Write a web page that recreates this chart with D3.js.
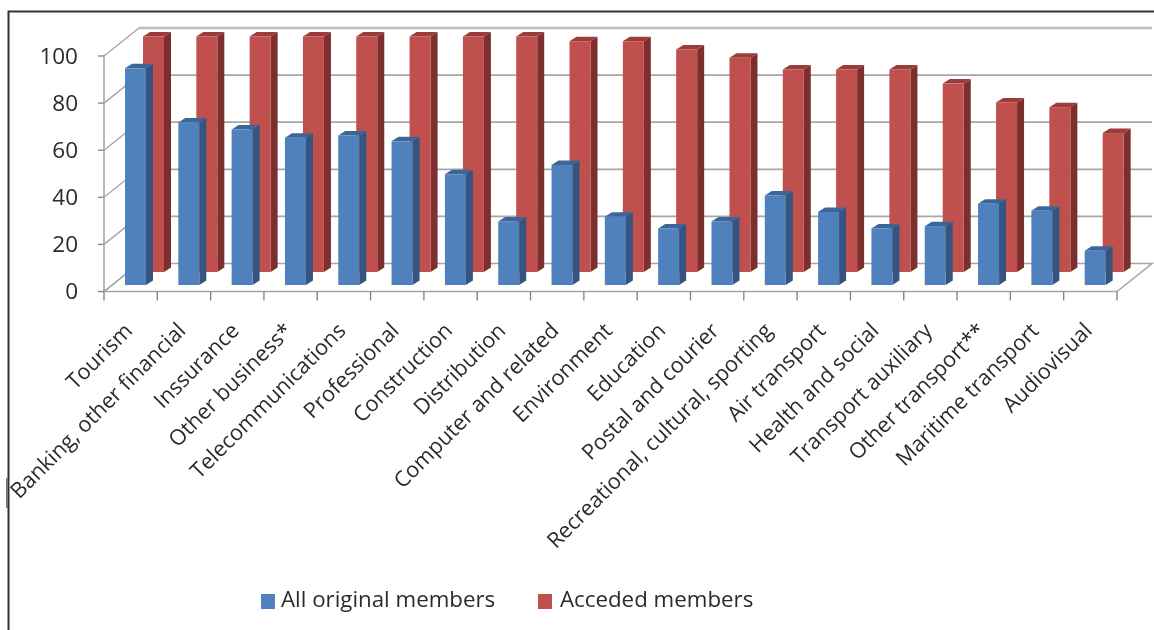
<!DOCTYPE html>
<html><head><meta charset="utf-8">
<script src="https://cdn.jsdelivr.net/npm/d3@7/dist/d3.min.js"></script>
<style>html,body{margin:0;padding:0;background:#fff}svg{display:block;filter:blur(.5px)}text{font-family:"Open Sans",Lato,sans-serif;fill:#2b2b2b}</style>
</head><body><svg id="c" width="1154" height="630"></svg>
<script>
const categories=["Tourism","Banking, other financial","Inssurance","Other business*","Telecommunications","Professional","Construction","Distribution","Computer and related","Environment","Education","Postal and courier","Recreational, cultural, sporting","Air transport","Health and social","Transport auxiliary","Other transport**","Maritime transport","Audiovisual"];
const originalMembers=[92,69,66,62.5,63.5,61,47,27,51,29,24,27,38,31,24,25,34.5,31.5,14.5];
const acceededMembers=[100,100,100,100,100,100,100,100,98,98,94.5,91,86,86,86,80,72,70,59];
const yTicks=[0,20,40,60,80,100];
const seriesNames=["All original members","Acceded members"];

const svg=d3.select("#c");
const X0=104,X1=1117,Y0=291.5,Y100=56,DX=35,DY=-28;
const x=d3.scaleBand().domain(categories).range([X0,X1]);
const y=d3.scaleLinear().domain([0,100]).range([Y0,Y100]);
const grid="#a6a6a6";

svg.append("path").attr("d","M8.5,630V11.5H1154").attr("fill","none").attr("stroke","#333").attr("stroke-width",2);
svg.append("line").attr("x1",7).attr("x2",7).attr("y1",478).attr("y2",508).attr("stroke","#777").attr("stroke-width",2);

svg.append("path").attr("d",`M${X0},${Y0}L${X0+DX},${Y0+DY}H${X1+DX}L${X1},${Y0}Z`).attr("fill","#fff").attr("stroke",grid).attr("stroke-width",1.6);
yTicks.forEach(t=>{
  const yy=y(t);
  if(t>0) svg.append("line").attr("x1",X0+DX).attr("x2",X1+DX).attr("y1",yy+DY).attr("y2",yy+DY).attr("stroke",t===100?"#bdbdbd":grid).attr("stroke-width",t===100?2.6:1.8);
  svg.append("line").attr("x1",X0).attr("x2",X0+DX).attr("y1",yy).attr("y2",yy+DY).attr("stroke",grid).attr("stroke-width",1.4);
  svg.append("line").attr("x1",X0-6).attr("x2",X0).attr("y1",yy).attr("y2",yy).attr("stroke","#888").attr("stroke-width",1.4);
  svg.append("text").attr("x",78).attr("y",yy+1.5).attr("text-anchor","end").attr("dominant-baseline","middle").attr("font-size",22.5).text(t);
});
svg.append("line").attr("x1",X0).attr("x2",X0).attr("y1",Y100).attr("y2",Y0).attr("stroke",grid).attr("stroke-width",1.6);
d3.range(categories.length+1).forEach(i=>{
  const px=X0+i*x.step();
  svg.append("line").attr("x1",px).attr("x2",px).attr("y1",Y0).attr("y2",Y0+9).attr("stroke","#888").attr("stroke-width",1.4);
});

function bars(values,offX,liftY,colors){
  const w=21,sx=7,sy=4.5,g=svg.append("g");
  values.forEach((v,i)=>{
    const l=x(categories[i])+offX,r=l+w,b=Y0-liftY,t=y(v)-liftY;
    g.append("path").attr("d",`M${r},${b}L${r+sx},${b-sy}V${t-sy}L${r},${t}Z`).attr("fill",colors[1]);
    g.append("path").attr("d",`M${l},${t}L${l+sx},${t-sy}H${r+sx}L${r},${t}Z`).attr("fill",colors[2]);
    g.append("rect").attr("x",l).attr("y",t).attr("width",w).attr("height",b-t).attr("fill",colors[0]);
  });
}
bars(acceededMembers,39,19.5,["#c0504d","#7d2f2d","#9a3c39"]);
bars(originalMembers,21,6.5,["#4f81bd","#34557f","#3c6698"]);

categories.forEach(c=>{
  const px=x(c)+x.step()/2+3, py=332;
  svg.append("text").attr("transform",`translate(${px},${py}) rotate(-45)`).attr("text-anchor","end").attr("font-size",21.6).text(c);
});

const lg=[[261,281,"#4f81bd"],[538,560,"#c0504d"]];
seriesNames.forEach((n,i)=>{
  svg.append("rect").attr("x",lg[i][0]).attr("y",594).attr("width",14).attr("height",15).attr("fill",lg[i][2]);
  svg.append("text").attr("x",lg[i][1]).attr("y",601.5).attr("dominant-baseline","middle").attr("font-size",22.3).text(n);
});
</script></body></html>
